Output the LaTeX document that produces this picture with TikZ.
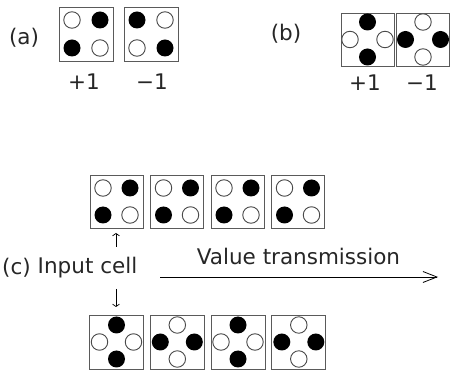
\documentclass[tikz,border=0pt]{standalone}
\usepackage{fontspec}
\setmainfont{DejaVu Sans}
\usetikzlibrary{arrows.meta}
\definecolor{boxgray}{HTML}{5A5A5A}
\definecolor{dotgray}{HTML}{4A4A4A}
\definecolor{txtgray}{HTML}{262626}
\tikzset{
  cellbox/.style={draw=boxgray, line width=0.9pt, minimum size=54pt, inner sep=0pt},
  dotw/.style={circle, draw=dotgray, line width=0.9pt, fill=white, minimum size=16.5pt, inner sep=0pt},
  dotb/.style={circle, fill=black, minimum size=17pt, inner sep=0pt},
  lbl/.style={inner sep=0pt, text=txtgray, font=\fontsize{21.5}{24}\selectfont},
  arr/.style={line width=0.7pt, -{Straight Barb[length=2.5pt,width=7pt]}},
  bigarr/.style={line width=0.8pt, -{Straight Barb[length=14pt,width=11pt]}},
  % square pattern, +1 : open TL, black TR, black BL, open BR
  pics/sqp/.style={code={
    \node[dotw] (-tl) at (-#1,-#1) {};
    \node[dotb] (-tr) at ( #1,-#1) {};
    \node[dotb] (-bl) at (-#1, #1) {};
    \node[dotw] (-br) at ( #1, #1) {};}},
  pics/sqm/.style={code={
    \node[dotb] (-tl) at (-#1,-#1) {};
    \node[dotw] (-tr) at ( #1,-#1) {};
    \node[dotw] (-bl) at (-#1, #1) {};
    \node[dotb] (-br) at ( #1, #1) {};}},
  % diamond pattern, +1 : black top/bottom, open left/right
  pics/dip/.style={code={
    \node[dotb] (-t) at (0,-#1) {};
    \node[dotb] (-b) at (0, #1) {};
    \node[dotw] (-l) at (-#1,0) {};
    \node[dotw] (-r) at ( #1,0) {};}},
  pics/dim/.style={code={
    \node[dotw] (-t) at (0,-#1) {};
    \node[dotw] (-b) at (0, #1) {};
    \node[dotb] (-l) at (-#1,0) {};
    \node[dotb] (-r) at ( #1,0) {};}},
}
\begin{document}
\begin{tikzpicture}[x=1pt,y=-1pt]
\useasboundingbox (0,0) rectangle (450,371);

% (a)
\node[lbl] (la) at (24,38) {(a)};
\node[cellbox] (a1) at (86,34) {};
\pic (a1d) at (a1) {sqp=14};
\node[cellbox] (a2) at (151,34) {};
\pic (a2d) at (a2) {sqm=14};
\node[lbl] (pa1) at (84,82) {+1};
\node[lbl] (pa2) at (152,82) {−1};

% (b)
\node[lbl] (lb) at (286,34) {(b)};
\node[cellbox, minimum size=53pt] (b1) at (367.5,39.5) {};
\pic (b1d) at (b1) {dip=17.5};
\node[cellbox, minimum size=53pt] (b2) at (423,39.5) {};
\pic (b2d) at (b2) {dim=17.5};
\node[lbl] (pb1) at (365,83) {+1};
\node[lbl] (pb2) at (422,83) {−1};

% (c) top row
\foreach \i/\x in {1/116.5, 2/177, 3/237.5, 4/298} {
  \node[cellbox, minimum size=53pt] (t\i) at (\x,201.5) {};
  \pic (t\i d) at (t\i) {sqp=13.5};
}
% (c) bottom row
\node[cellbox] (u1) at (116.5,342) {};
\pic (u1d) at (u1) {dip=17};
\node[cellbox] (u2) at (177.3,342) {};
\pic (u2d) at (u2) {dim=17};
\node[cellbox] (u3) at (238,342) {};
\pic (u3d) at (u3) {dip=17};
\node[cellbox] (u4) at (298.8,342) {};
\pic (u4d) at (u4) {dim=17};

\node[lbl] (lc) at (16.5,268) {(c)};
\node[lbl] (inp) at (87.5,268) {Input cell};

\coordinate (upS) at (116,247);
\coordinate (upE) at (116,233);
\coordinate (dnS) at (116,289);
\coordinate (dnE) at (116,307);
\draw[arr] (upS) -- (upE);
\draw[arr] (dnS) -- (dnE);

\coordinate (vS) at (160,277);
\coordinate (vE) at (438,277);
\draw[bigarr] (vS) -- (vE);
\node[lbl] (vt) at (298.5,256) {Value transmission};
\end{tikzpicture}
\end{document}
